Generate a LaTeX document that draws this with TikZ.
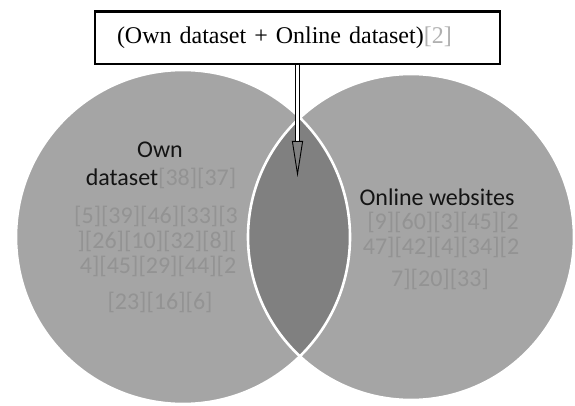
\documentclass[tikz,border=0pt]{standalone}
\usepackage{fontspec}
\setmainfont{Liberation Serif}
\newfontfamily\calfont{Carlito}
\usetikzlibrary{arrows.meta}
\definecolor{circfill}{HTML}{A5A5A5}
\definecolor{lensfill}{HTML}{808080}
\definecolor{citeout}{HTML}{B0B0B0}
\definecolor{citein}{HTML}{939393}
\definecolor{labtext}{HTML}{141414}
\tikzset{
  setcircle/.style={fill=circfill},
  ring/.style={draw=white, line width=2.6pt},
  lab/.style={font=\calfont\fontsize{24}{26}\selectfont, text=labtext, inner sep=0pt},
  citel/.style={font=\calfont\fontsize{24}{26}\selectfont, text=citein, inner sep=0pt},
  topbox/.style={draw=black, line width=1.6pt, fill=white, minimum width=405pt, minimum height=52pt,
    inner xsep=22pt, inner ysep=0pt, text width=361pt, align=left,
    font=\fontsize{24}{26}\selectfont},
  hollowarrow/.style={double=white, double distance=2.4pt, line width=0.9pt,
    -{Triangle[open, length=36pt, width=11pt, line width=0.9pt]}}
}
\begin{document}
\begin{tikzpicture}[x=1pt, y=-1pt]
\useasboundingbox (0,0) rectangle (575,406);
% circles
\fill[setcircle] (183,237) circle (167);
\fill[setcircle] (411,237) circle (163);
\begin{scope}
  \clip (183,237) circle (167);
  \fill[lensfill] (411,237) circle (163);
\end{scope}
\draw[ring] (183,237) circle (167);
\draw[ring] (411,237) circle (163);
% left labels
\node[lab] (own) at (160,150) {Own};
\node[lab] (ds) at (161,178) {dataset{\color{citein}[38][37]}};
\node[citel] (l1) at (156,216) {[5][39][46][33][3};
\node[citel] (l2) at (157,241) {][26][10][32][8][};
\node[citel] (l3) at (158,266) {4][45][29][44][2};
\node[citel] (l4) at (160,302) {[23][16][6]};
% right labels
\node[lab] (ow) at (437,197) {Online websites};
\node[citel] (r1) at (443,222) {[9][60][3][45][2};
\node[citel] (r2) at (441,247) {47][42][4][34][2};
\node[citel] (r3) at (440,279) {7][20][33]};
% top box
\node[topbox] (box) at (297.5,38) {(Own dataset + Online dataset){\color{citeout}[2]}};
\draw[line width=2.4pt] (box.north west) -- (box.north east);
\coordinate (tip) at (297.5,177);
\draw[hollowarrow] (box.south) -- (tip);
\end{tikzpicture}
\end{document}
